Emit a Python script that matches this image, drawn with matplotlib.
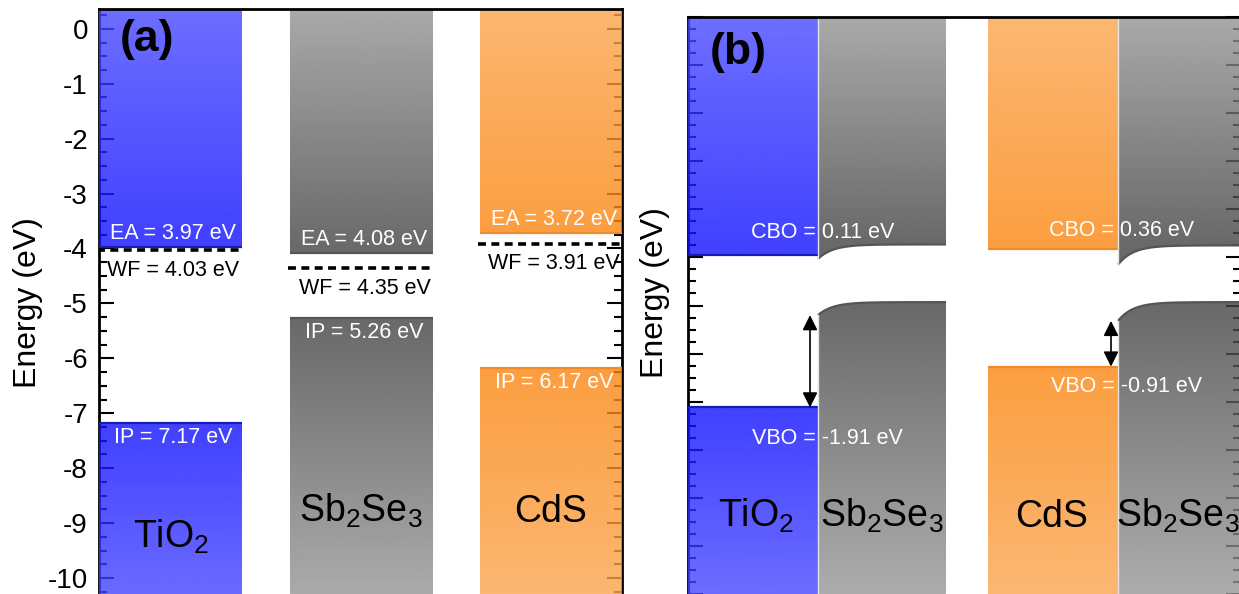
import numpy as np
import matplotlib.pyplot as plt
from matplotlib.patches import Polygon
from matplotlib.ticker import MultipleLocator

plt.rcParams['font.family'] = ['Liberation Sans', 'DejaVu Sans']
plt.rcParams['mathtext.fontset'] = 'custom'
plt.rcParams['mathtext.rm'] = 'Liberation Sans'
plt.rcParams['mathtext.it'] = 'Liberation Sans:italic'
plt.rcParams['mathtext.bf'] = 'Liberation Sans:bold'
plt.rcParams['axes.unicode_minus'] = False

# (a) isolated layers, eV
names_a = ["TiO$_2$", "Sb$_2$Se$_3$", "CdS"]
ea = [3.97, 4.08, 3.72]
ip = [7.17, 5.26, 6.17]
wf = [4.03, 4.35, 3.91]

# (b) aligned junctions, levels (eV)
names_b = ["TiO$_2$", "Sb$_2$Se$_3$", "CdS", "Sb$_2$Se$_3$"]
cb_b = [-3.95, -3.73, -3.82, -3.75]
vb_b = [-7.12, -4.93, -6.27, -4.93]
cb_if = [None, -4.03, None, -4.15]   # bent edge at the interface
vb_if = [None, -5.20, None, -5.32]
cbo = ["0.11", "0.36"]
vbo = ["-1.91", "-0.91"]

colors_a = ['blue', 'gray', 'orange']
colors_b = ['blue', 'gray', 'orange', 'gray']

A = 0.8  # bars are drawn translucent over the ticks
light = {'blue': (0.47, 0.47, 1.0), 'gray': (0.72, 0.72, 0.72), 'orange': (0.99, 0.74, 0.49)}
dark = {'blue': (0.25, 0.25, 1.0), 'gray': (0.41, 0.41, 0.41), 'orange': (0.99, 0.62, 0.25)}
edge = {'blue': '#1a1ab4', 'gray': '#555555', 'orange': '#f08a2c'}


def band(ax, ex, ey, yfar, c):
    'gradient filled band between edge polyline (ex, ey) and level yfar'
    ex = np.asarray(ex, float)
    ey = np.asarray(ey, float)
    poly = np.vstack([np.column_stack([ex, ey]), [[ex[-1], yfar], [ex[0], yfar]]])
    ylo, yhi = min(ey.min(), yfar), max(ey.max(), yfar)
    ys = np.linspace(ylo, yhi, 400)
    yedge = ey[-1]
    frac = np.clip((ys - yedge) / (yfar - yedge), 0, 1)[:, None]
    rgb = np.array(dark[c]) + frac * (np.array(light[c]) - np.array(dark[c]))
    rgb = np.clip((rgb - (1 - A)) / A, 0, 1)
    img = np.concatenate([rgb, np.full((len(ys), 1), A)], axis=1)[:, None, :]
    im = ax.imshow(img, extent=[ex.min(), ex.max(), ylo, yhi], origin='lower',
                   aspect='auto', interpolation='bilinear', zorder=3)
    patch = Polygon(poly, closed=True, transform=ax.transData, fc='none', ec='none')
    im.set_clip_path(patch)
    ax.plot(ex, ey, color=edge[c], lw=1.6, zorder=4, solid_capstyle='butt')


def bent(x0, x1, y_if, y_flat, L=15):
    xs = np.linspace(x0, x1, 200)
    return xs, y_flat + (y_if - y_flat) * np.exp(-(xs - x0) / L)


def style_axes(ax, labels=True):
    ax.yaxis.set_major_locator(MultipleLocator(1))
    ax.yaxis.set_minor_locator(MultipleLocator(0.25))
    ax.set_xticks([])
    ax.tick_params(axis='y', which='both', direction='in', left=True, right=True,
                   width=1.5, color='k', labelleft=labels, labelsize=20, pad=8)
    ax.tick_params(axis='y', which='major', length=11)
    ax.tick_params(axis='y', which='minor', length=6)
    for s in ax.spines.values():
        s.set_linewidth(2)
    ax.spines['bottom'].set_visible(False)
    ax.spines['top'].set_zorder(5)


fig = plt.figure(figsize=(12.39, 5.94), dpi=100)

# ---------------- panel (a)
ax = fig.add_axes([99 / 1239, 0, 523 / 1239, 585 / 594])
top_a, bot_a = 0.36, -10.29
bars_a = [(0, 143), (191, 334), (381, 523)]
for (x0, x1), name, e, i, w, c in zip(bars_a, names_a, ea, ip, wf, colors_a):
    xm = 0.5 * (x0 + x1)
    band(ax, [x0, x1], [-e, -e], top_a + 1, c)
    band(ax, [x0, x1], [-i, -i], bot_a - 1, c)
    ax.plot([x0 - 2, x1], [-w, -w], color='k', lw=2.6, ls=(0, (2.2, 1.5)), zorder=4)
    ax.text(xm + 3, -e + 0.14, "EA = %.2f eV" % e, color='w', fontsize=15.5,
            ha='center', va='baseline', zorder=6)
    ax.text(xm + 3, -w - 0.47, "WF = %.2f eV" % w, color='k', fontsize=15.5,
            ha='center', va='baseline', zorder=6)
    ax.text(xm + 3, -i - 0.37, "IP = %.2f eV" % i, color='w', fontsize=15.5,
            ha='center', va='baseline', zorder=6)
ax.text(72, -9.44, names_a[0], fontsize=27, ha='center', va='baseline', zorder=6)
ax.text(262, -8.98, names_a[1], fontsize=27, ha='center', va='baseline', zorder=6)
ax.text(452, -8.98, names_a[2], fontsize=27, ha='center', va='baseline', zorder=6)
ax.text(48, -0.2, "(a)", fontsize=32, fontweight='bold', ha='center', va='center', zorder=6)
ax.set_xlim(0, 523)
ax.set_ylim(bot_a, top_a)
style_axes(ax)
ax.set_ylabel("Energy (eV)", fontsize=23)
ax.yaxis.set_label_coords(-0.107, 0.499)

# ---------------- panel (b)
bx = fig.add_axes([688 / 1239, 0, 552.5 / 1239, 577 / 594])
top_b, bot_b = 1.0, -11.0
bars_b = [(0, 130), (130, 258), (300, 430), (430, 553)]
for k, ((x0, x1), c) in enumerate(zip(bars_b, colors_b)):
    if cb_if[k] is None:
        band(bx, [x0, x1], [cb_b[k], cb_b[k]], top_b + 1, c)
        band(bx, [x0, x1], [vb_b[k], vb_b[k]], bot_b - 1, c)
    else:
        xs, ys = bent(x0, x1, cb_if[k], cb_b[k])
        band(bx, xs, ys, top_b + 1, c)
        xs, ys = bent(x0, x1, vb_if[k], vb_b[k])
        band(bx, xs, ys, bot_b - 1, c)
        bx.plot([x0, x0], [top_b, cb_if[k]], color='#e4e4e4', lw=1, zorder=4)
        bx.plot([x0, x0], [vb_if[k], bot_b], color='#e4e4e4', lw=1, zorder=4)

arrow = dict(arrowstyle='<|-|>,head_length=0.6,head_width=0.3', color='k', lw=1.2,
             mutation_scale=15, shrinkA=0, shrinkB=0)
bx.annotate('', xy=(122, vb_if[1]), xytext=(122, vb_b[0]), arrowprops=arrow, zorder=6)
bx.annotate('', xy=(423, vb_if[3]), xytext=(423, vb_b[2]), arrowprops=arrow, zorder=6)

bx.text(135, -3.59, "CBO = %s eV" % cbo[0], color='w', fontsize=15.5, ha='center', va='baseline', zorder=6)
bx.text(434, -3.56, "CBO = %s eV" % cbo[1], color='w', fontsize=15.5, ha='center', va='baseline', zorder=6)
bx.text(139, -7.88, "VBO = %s eV" % vbo[0], color='w', fontsize=15.5, ha='center', va='baseline', zorder=6)
bx.text(439, -6.80, "VBO = %s eV" % vbo[1], color='w', fontsize=15.5, ha='center', va='baseline', zorder=6)
for xm, name in zip([68, 194, 364, 490], names_b):
    bx.text(xm, -9.60, name, fontsize=27, ha='center', va='baseline', zorder=6)
bx.text(50, 0.27, "(b)", fontsize=32, fontweight='bold', ha='center', va='center', zorder=6)
bx.set_xlim(0, 552.5)
bx.set_ylim(bot_b, top_b)
style_axes(bx, labels=False)
bx.set_ylabel("Energy (eV)", fontsize=23)
bx.yaxis.set_label_coords(-0.0326, 0.5217)

plt.savefig("out.png", dpi=100)
